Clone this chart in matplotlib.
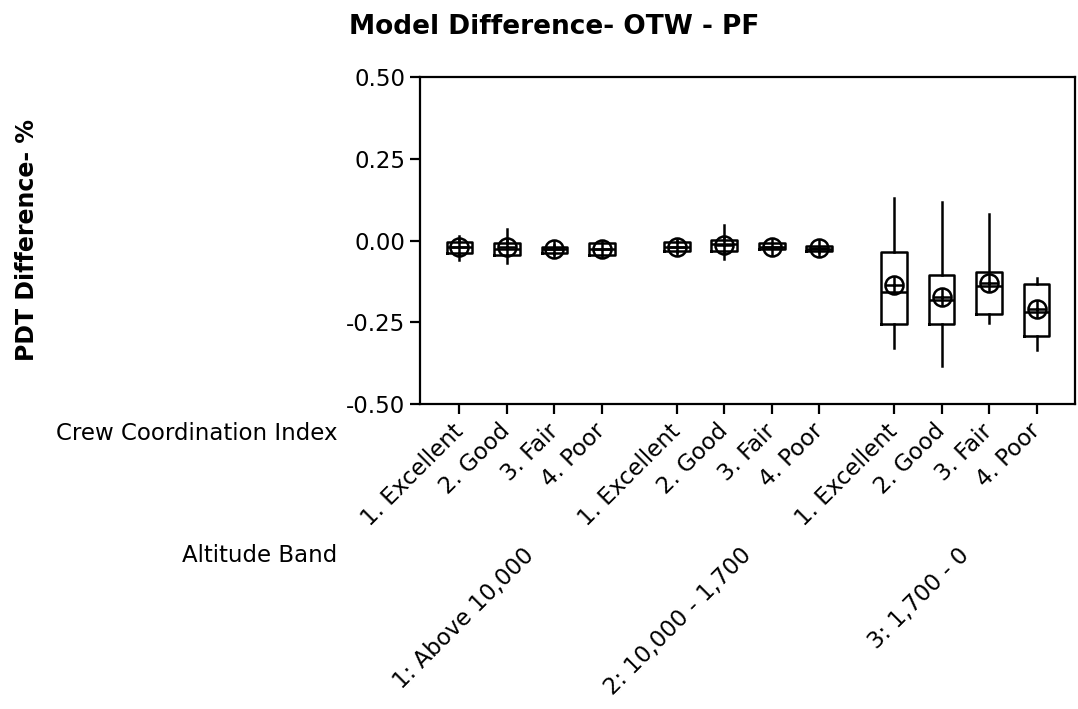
import matplotlib
matplotlib.use("Agg")
import matplotlib.pyplot as plt
from matplotlib.transforms import blended_transform_factory

plt.rcParams['font.family'] = ['DejaVu Sans']
plt.rcParams['axes.unicode_minus'] = False

# Crew coordination index within each altitude band
crew_labels = ['1. Excellent', '2. Good', '3. Fair', '4. Poor']
band_labels = ['1: Above 10,000', '2: 10,000 - 1,700', '3: 1,700 - 0']

# box statistics, 12 boxes (band x crew)
whis_lo = [-0.060, -0.068, -0.040, -0.045,
           -0.036, -0.056, -0.027, -0.034,
           -0.330, -0.385, -0.251, -0.335]
q1 = [-0.038, -0.043, -0.038, -0.043,
      -0.033, -0.033, -0.025, -0.033,
      -0.255, -0.255, -0.226, -0.292]
median = [-0.019, -0.025, -0.027, -0.027,
          -0.019, -0.011, -0.019, -0.025,
          -0.158, -0.182, -0.139, -0.218]
q3 = [-0.004, -0.009, -0.019, -0.009,
      -0.005, 0.003, -0.009, -0.017,
      -0.036, -0.104, -0.097, -0.133]
whis_hi = [0.013, 0.034, -0.015, -0.008,
           -0.003, 0.046, -0.008, -0.016,
           0.130, 0.117, 0.081, -0.114]
means = [-0.019, -0.019, -0.025, -0.026,
         -0.019, -0.015, -0.019, -0.023,
         -0.137, -0.172, -0.129, -0.210]

y_ticks = [-0.50, -0.25, 0.00, 0.25, 0.50]

# x positions: 4 boxes per band, a wider gap between bands
gap = 1.58
positions = []
for g in range(len(band_labels)):
    for k in range(len(crew_labels)):
        positions.append(g * (len(crew_labels) - 1 + gap) + k)

stats = []
for i in range(len(positions)):
    stats.append({'whislo': whis_lo[i], 'q1': q1[i], 'med': median[i],
                  'q3': q3[i], 'whishi': whis_hi[i], 'mean': means[i]})

fig = plt.figure(figsize=(10.78, 7.09), dpi=100)
ax = fig.add_axes([420 / 1078, 1 - 404 / 709, 655 / 1078, 327 / 709])

lw = 1.8
ax.bxp(stats, positions=positions, widths=0.54, showcaps=False, showfliers=False,
       showmeans=False, patch_artist=False,
       boxprops=dict(color='black', linewidth=lw),
       whiskerprops=dict(color='black', linewidth=lw),
       medianprops=dict(color='black', linewidth=lw))
ax.plot(positions, means, linestyle='none', marker='o', markersize=13,
        markerfacecolor='none', markeredgecolor='black', markeredgewidth=lw)
ax.plot(positions, means, linestyle='none', marker='+', markersize=13,
        markeredgecolor='black', markeredgewidth=lw)

ax.set_xlim(positions[0] - 0.83, positions[-1] + 0.81)
ax.set_ylim(-0.5, 0.5)
ax.set_yticks(y_ticks)
ax.set_yticklabels([f'{v:.2f}' for v in y_ticks], fontsize=16.5)
ax.set_xticks(positions)
ax.set_xticklabels(crew_labels * len(band_labels), fontsize=16.5, rotation=45,
                   ha='right', va='center', rotation_mode='anchor')
ax.tick_params(axis='both', direction='out', length=7, width=1.6, color='black')
ax.tick_params(axis='x', pad=10)
for s in ax.spines.values():
    s.set_linewidth(1.6)

# band labels under each group
trans = blended_transform_factory(ax.transData, fig.transFigure)
for g, lab in enumerate(band_labels):
    cx = sum(positions[g * 4:(g + 1) * 4]) / 4
    ax.text(cx, 1 - 552 / 709, lab, transform=trans, fontsize=16.5, rotation=45,
            ha='right', va='center', rotation_mode='anchor')

fig.text(337 / 1078, 1 - 433 / 709, 'Crew Coordination Index', fontsize=16.5,
         ha='right', va='center')
fig.text(337 / 1078, 1 - 555 / 709, 'Altitude Band', fontsize=16.5,
         ha='right', va='center')

fig.text(554 / 1078, 1 - 27 / 709, 'Model Difference- OTW - PF', fontsize=19,
         fontweight='bold', ha='center', va='center')
fig.text(27 / 1078, 1 - 240 / 709, 'PDT Difference- %', fontsize=17,
         fontweight='bold', rotation=90, ha='center', va='center')

fig.savefig('out.png', dpi=100)
